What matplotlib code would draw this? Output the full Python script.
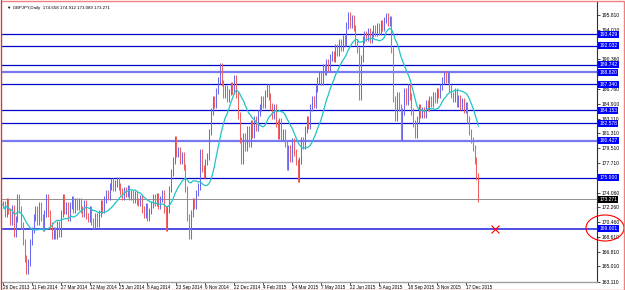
import numpy as np
import pandas as pd
import matplotlib
matplotlib.use("Agg")
import matplotlib.pyplot as plt
from matplotlib.patches import Ellipse, Rectangle
from matplotlib.transforms import blended_transform_factory

plt.rcParams['font.family'] = ['Liberation Sans', 'DejaVu Sans']

# GBPJPY daily closes, one value every 2 trading days
closes = [
    172.6, 171.5, 173.0, 171.8, 170.5, 172.2,
    169.0, 170.8, 173.5, 172.0,
    170.0, 168.0, 166.0, 164.5,
    165.5, 168.0, 169.5, 171.0,
    172.0, 170.5, 172.5, 171.0, 169.8, 171.5, 173.5,
    171.5, 170.0, 168.8, 169.5,
    168.8, 170.2, 169.0, 171.5,
    173.5, 171.8, 172.5, 171.0,
    172.5, 173.2, 172.0, 173.0, 172.3, 173.0, 172.0, 171.5,
    172.8, 171.2, 170.8, 172.0, 170.5, 170.0, 171.2, 170.2,
    171.5, 172.8, 172.0, 173.2, 174.0, 173.5, 174.8, 175.5, 174.6, 175.2, 175.6, 174.8,
    174.2, 173.6, 174.4, 173.9, 174.6, 173.5, 174.0, 173.2, 173.8, 173.0,
    172.8, 173.4, 172.0, 171.3, 172.4, 171.0, 171.8,
    172.6, 173.5, 172.8, 173.6, 172.5, 173.3, 174.0,
    172.0, 169.8,
    172.0, 174.5, 176.5, 178.0, 180.6,
    178.8, 179.2, 178.0, 178.6, 177.2,
    174.5, 171.0, 168.8,
    171.5, 173.0, 172.4, 174.0, 174.8,
    179.0, 177.0, 176.2, 177.8, 178.5,
    181.5, 184.0, 185.5, 184.8, 186.5, 187.8, 189.5,
    187.5, 186.0, 186.8, 185.6, 186.4, 187.2, 186.5, 188.0,
    186.0, 183.5, 180.5, 178.0, 181.0,
    179.5, 181.8, 180.0, 182.5, 181.2, 183.0, 182.0, 183.8, 184.5,
    185.5, 184.8, 186.2, 187.0, 185.8, 184.6,
    183.5, 184.5, 182.5, 181.0, 182.8, 180.8, 181.5,
    180.0, 177.2, 179.5, 178.2, 180.4, 179.0, 177.8, 175.8, 178.0,
    180.5, 179.8, 181.8, 183.0, 182.2, 184.5, 185.5, 184.8, 186.8, 187.8,
    188.5, 187.6, 189.4, 188.8, 190.0, 189.3, 190.6,
    191.0, 190.4, 191.8, 191.2, 192.5, 191.8, 193.0, 192.4,
    194.5, 195.8, 194.6, 195.4, 194.2,
    192.5, 191.5, 185.8, 190.5, 192.8, 193.5,
    193.0, 193.8, 192.8, 193.5, 194.2, 193.6,
    194.4, 193.8, 194.8, 194.2, 195.2, 195.6, 194.8, 195.3,
    191.5, 185.5, 183.2, 186.0, 184.5, 180.8,
    184.0, 186.5, 185.2, 187.0, 185.8,
    184.0, 182.5, 181.2, 183.0, 184.5, 183.6,
    184.2, 183.6, 185.0, 184.4, 185.5, 184.9, 186.0, 185.4, 186.5, 186.0, 187.0,
    187.8, 188.6, 187.9, 188.5,
    186.8, 186.0, 185.5, 186.5, 185.0,
    185.6, 184.6, 185.2, 184.2, 184.8,
    183.0, 181.5, 180.5,
    179.5, 178.0, 176.0, 173.271,
]

date_labels = ["26 Dec 2013", "11 Feb 2014", "27 Mar 2014", "12 May 2014", "25 Jun 2014",
               "8 Aug 2014", "23 Sep 2014", "6 Nov 2014", "22 Dec 2014", "4 Feb 2015",
               "24 Mar 2015", "7 May 2015", "22 Jun 2015", "5 Aug 2015", "18 Sep 2015",
               "3 Nov 2015", "17 Dec 2015"]

# price scale labels (those hidden behind the level boxes are left out)
price_ticks = [163.110, 165.010, 166.810, 168.610, 170.460, 172.260, 174.060,
               177.710, 179.510, 181.310, 183.110, 184.910, 186.760, 190.360,
               194.010, 195.810]

# horizontal levels drawn by hand in the terminal
levels = [193.429, 192.032, 189.742, 188.820, 187.340, 184.153, 182.578, 180.427, 175.900, 169.601]
level_style = ["dark", "dark", "dark", "light", "dark", "dark", "dark", "light", "dark", "mid"]

last_price = 173.271
title = "GBPJPY,Daily  174.658 174.912 173.089 173.271"
cross_x, cross_y = 272, 169.6

s = pd.Series(closes)
ma = s.rolling(15, min_periods=1).mean()
x = np.arange(len(s))
prev = s.shift(1).fillna(s.iloc[0])
lo = np.minimum(prev, s) - 0.4
hi = np.maximum(prev, s) + 0.4
up = s >= prev

fig = plt.figure(figsize=(6.25, 2.9), dpi=100)
ax = fig.add_axes([2 / 625, 1 - 282 / 290, 595 / 625, 280 / 290])

ax.set_xlim(-0.5, 328.7)
ax.set_ylim(163.11, 197.4)

for lv, st in zip(levels, level_style):
    if st == "light":
        ax.axhline(lv, color="#7878f0", lw=1.6, zorder=1)
    elif st == "mid":
        ax.axhline(lv, color="#3030e0", lw=1.2, zorder=1)
    else:
        ax.axhline(lv, color="#0000cc", lw=0.9, zorder=1)
ax.axhline(last_price, color="#909090", lw=0.7, zorder=1)

ax.vlines(x[up], lo[up], hi[up], color="#6a6af0", lw=0.75, zorder=2)
ax.vlines(x[~up], lo[~up], hi[~up], color="#f06060", lw=0.75, zorder=2)
ax.plot(x, ma, color="#20c4c4", lw=0.9, zorder=3)

ax.plot(cross_x, cross_y, marker="x", ms=6, mew=0.8, color="red", zorder=4)

# axes styling
for side in ["left", "top"]:
    ax.spines[side].set_visible(False)
ax.spines["right"].set_color("#303030")
ax.spines["right"].set_linewidth(0.8)
ax.spines["bottom"].set_color("#a0a0a0")
ax.spines["bottom"].set_linewidth(1.0)

ax.yaxis.tick_right()
ax.set_yticks(price_ticks)
ax.set_yticklabels([f"{v:.3f}" for v in price_ticks])
ax.tick_params(axis="y", labelsize=3.6, length=2, width=0.5, pad=1)

ax.set_xticks(np.arange(len(date_labels)) * 16)
ax.set_xticklabels(date_labels, ha="left")
ax.tick_params(axis="x", labelsize=3.3, length=2, width=0.5, pad=0.5)

tr = blended_transform_factory(ax.transAxes, ax.transData)
for lv in levels:
    ax.text(1.004, lv, f"{lv:.3f}", transform=tr, ha="left", va="center", fontsize=3.6,
            color="white", clip_on=False, zorder=6,
            bbox=dict(boxstyle="square,pad=0.2", facecolor="#0000ff", edgecolor="none"))
ax.text(1.004, last_price, f"{last_price:.3f}", transform=tr, ha="left", va="center",
        fontsize=3.6, color="white", clip_on=False, zorder=6,
        bbox=dict(boxstyle="square,pad=0.2", facecolor="black", edgecolor="none"))

ax.text(0.008, 0.985, "\u25bc " + title, transform=ax.transAxes, ha="left", va="top",
        fontsize=3.2, color="black")

# red circle around the level label
fig.patches.append(Ellipse((605 / 625, 1 - 228 / 290), 38 / 625, 26 / 290,
                           transform=fig.transFigure, fill=False, edgecolor="red", lw=0.8))

# window frame
fig.patches.append(Rectangle((0.5 / 625, 0.5 / 290), 623.5 / 625, 288.5 / 290,
                             transform=fig.transFigure, fill=False, edgecolor="#f08080", lw=1.0))
fig.lines.append(plt.Line2D([1.5 / 625, 1.5 / 625], [0, 1], transform=fig.transFigure,
                            color="#c04040", lw=0.8))

fig.savefig("out.png", dpi=100)
